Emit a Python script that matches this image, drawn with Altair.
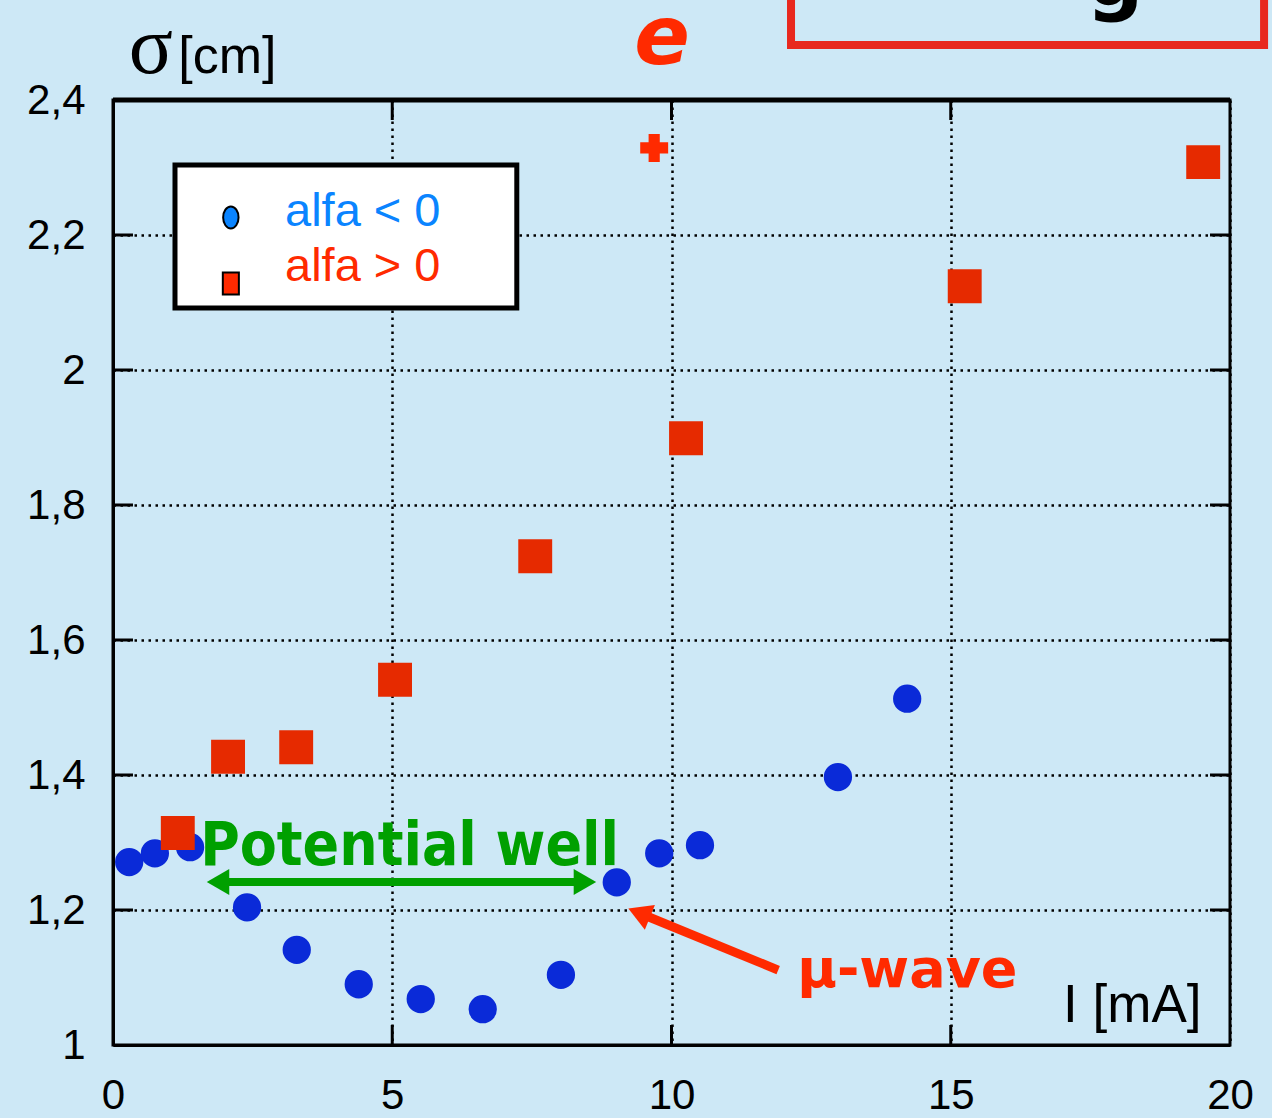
import altair as alt
import pandas as pd

# Bunch length sigma [cm] versus beam current I [mA]
blue_I = [0.29, 0.75, 1.38, 2.40, 3.29, 4.40, 5.51, 6.62, 8.02, 9.02, 9.78, 10.51, 12.98, 14.22]
blue_sigma = [1.271, 1.284, 1.293, 1.204, 1.141, 1.090, 1.068, 1.053, 1.104, 1.241, 1.284, 1.296, 1.397, 1.513]

red_I = [1.16, 2.06, 3.28, 5.05, 7.56, 10.26, 15.25, 19.52]
red_sigma = [1.314, 1.427, 1.441, 1.541, 1.724, 1.899, 2.124, 2.308]

plus_I = [9.69]
plus_sigma = [2.329]

x_ticks = [0, 5, 10, 15, 20]
y_ticks = [1, 1.2, 1.4, 1.6, 1.8, 2, 2.2, 2.4]

BG = "#cde8f6"
BLUE = "#0a2ad8"
RED = "#e62a00"
LEGEND_BLUE = "#0a84ff"
LEGEND_RED = "#ff2a00"
GREEN = "#00a000"
SANS = "Liberation Sans"

x_scale = alt.Scale(domain=[0, 20], nice=False, zero=False)
y_scale = alt.Scale(domain=[1, 2.4], nice=False, zero=False)

common_axis = dict(
    title=None, grid=True, ticks=False,
    labelFont=SANS, labelFontSize=42, labelColor="black",
    domainColor="black", domainWidth=3,
    gridColor="black", gridDash=[2.5, 4.5], gridWidth=2.5, gridOpacity=1,
)
x_axis = alt.Axis(values=x_ticks, labelPadding=30, labelFlush=False, **common_axis)
y_axis = alt.Axis(
    values=y_ticks, labelPadding=28,
    labelExpr="replace(format(datum.value, '.1~f'), '.', ',')",
    **common_axis,
)


def X(field="x"):
    return alt.X(f"{field}:Q", scale=x_scale, axis=x_axis)


def Y(field="y"):
    return alt.Y(f"{field}:Q", scale=y_scale, axis=y_axis)


def pts(xs, ys):
    return pd.DataFrame({"x": xs, "y": ys})


# measured points
blue = alt.Chart(pts(blue_I, blue_sigma)).mark_point(
    shape="circle", filled=True, size=800, color=BLUE, opacity=1
).encode(x=X(), y=Y())

red = alt.Chart(pts(red_I, red_sigma)).mark_point(
    shape="square", filled=True, size=1150, color=RED, opacity=1
).encode(x=X(), y=Y())

plus = alt.Chart(pts(plus_I, plus_sigma)).mark_point(
    shape="cross", filled=True, size=780, color=LEGEND_RED, opacity=1
).encode(x=X(), y=Y())

# inward tick marks on all four sides of the frame
tx = 20 / 55.85
ty = 20 / 675
tick_rows = []
for v in y_ticks[1:-1]:
    tick_rows.append({"x": 0, "x2": tx, "y": v, "y2": v})
    tick_rows.append({"x": 20 - tx, "x2": 20, "y": v, "y2": v})
for v in x_ticks[1:-1]:
    tick_rows.append({"x": v, "x2": v, "y": 1, "y2": 1 + ty})
    tick_rows.append({"x": v, "x2": v, "y": 2.4 - ty, "y2": 2.4})
ticks = alt.Chart(pd.DataFrame(tick_rows)).mark_rule(color="black", strokeWidth=3).encode(
    x=X(), x2="x2:Q", y=Y(), y2="y2:Q"
)

# top frame edge drawn a little heavier
top_edge = alt.Chart(pd.DataFrame([{"x": 0, "x2": 20, "y": 2.4, "y2": 2.4}])).mark_rule(
    color="black", strokeWidth=5
).encode(x=X(), x2="x2:Q", y=Y(), y2="y2:Q")

# legend box
legend_box = alt.Chart(pd.DataFrame([{"x": 1.11, "x2": 7.23, "y": 2.0919, "y2": 2.3037}])).mark_rect(
    fill="white", stroke="black", strokeWidth=5
).encode(x=X(), x2="x2:Q", y=Y(), y2="y2:Q")

ellipse_path = "M -0.7 0 A 0.7 1 0 1 0 0.7 0 A 0.7 1 0 1 0 -0.7 0 Z"
box_path = "M -0.73 -1 L 0.73 -1 L 0.73 1 L -0.73 1 Z"
leg_blue_sym = alt.Chart(pts([2.11], [2.226])).mark_point(
    shape=ellipse_path, filled=True, size=484, fill=LEGEND_BLUE, stroke="black", strokeWidth=2, opacity=1
).encode(x=X(), y=Y())
leg_red_sym = alt.Chart(pts([2.11], [2.128])).mark_point(
    shape=box_path, filled=True, size=484, fill=LEGEND_RED, stroke="black", strokeWidth=2, opacity=1
).encode(x=X(), y=Y())

leg_text = alt.Chart(pd.DataFrame({
    "x": [3.08, 3.08], "y": [2.2134, 2.132],
    "t": ["alfa < 0", "alfa > 0"], "c": [LEGEND_BLUE, LEGEND_RED],
})).mark_text(font=SANS, fontSize=47, align="left", baseline="alphabetic").encode(
    x=X(), y=Y(), text="t:N", color=alt.Color("c:N", scale=None)
)

# potential-well double arrow
well_shaft = alt.Chart(pd.DataFrame([{"x": 1.9, "x2": 8.45, "y": 1.2415, "y2": 1.2415}])).mark_rule(
    color=GREEN, strokeWidth=8
).encode(x=X(), x2="x2:Q", y=Y(), y2="y2:Q")
well_heads = alt.Chart(pd.DataFrame({
    "x": [1.88, 8.45], "y": [1.2415, 1.2415], "s": ["triangle-left", "triangle-right"],
})).mark_point(filled=True, size=676, color=GREEN, opacity=1).encode(
    x=X(), y=Y(), shape=alt.Shape("s:N", scale=None)
)
well_text = alt.Chart(pd.DataFrame([{"x": 1.56, "y": 1.267, "t": "Potential well"}])).mark_text(
    font="DejaVu Sans Condensed, DejaVu Sans", fontWeight="bold", fontSize=60,
    color=GREEN, align="left", baseline="alphabetic"
).encode(x=X(), y=Y(), text="t:N")

# microwave-instability arrow
mu_shaft = alt.Chart(pd.DataFrame([{"x": 9.42, "x2": 11.91, "y": 1.1956, "y2": 1.111}])).mark_rule(
    color=LEGEND_RED, strokeWidth=9
).encode(x=X(), x2="x2:Q", y=Y(), y2="y2:Q")
mu_head = alt.Chart(pts([9.42], [1.1956])).mark_point(
    shape="triangle-up", filled=True, size=720, angle=292, color=LEGEND_RED, opacity=1
).encode(x=X(), y=Y())
mu_text = alt.Chart(pd.DataFrame([{"x": 12.25, "y": 1.086, "t": "\u03bc-wave"}])).mark_text(
    font="DejaVu Sans", fontWeight="bold", fontSize=54,
    color=LEGEND_RED, align="left", baseline="alphabetic"
).encode(x=X(), y=Y(), text="t:N")

# axis titles
x_title = alt.Chart(pd.DataFrame([{"x": 19.49, "y": 1.034, "t": "I [mA]"}])).mark_text(
    font=SANS, fontSize=53, color="black", align="right", baseline="alphabetic"
).encode(x=X(), y=Y(), text="t:N")
y_title_sigma = alt.Chart(pd.DataFrame([{"x": 0.28, "y": 2.44, "t": "\u03c3"}])).mark_text(
    font="Liberation Serif", fontSize=82, color="black", align="left", baseline="alphabetic"
).encode(x=X(), y=Y(), text="t:N")
y_title_unit = alt.Chart(pd.DataFrame([{"x": 1.17, "y": 2.44, "t": "[cm]"}])).mark_text(
    font=SANS, fontSize=52, color="black", align="left", baseline="alphabetic"
).encode(x=X(), y=Y(), text="t:N")

# header decorations above the plot
e_text = alt.Chart(pd.DataFrame([{"x": 9.83, "y": 2.453, "t": "e"}])).mark_text(
    font="DejaVu Sans", fontWeight="bold", fontStyle="italic", fontSize=82,
    color=LEGEND_RED, align="center", baseline="alphabetic"
).encode(x=X(), y=Y(), text="t:N")
header_box = alt.Chart(pd.DataFrame([{"x": 12.14, "x2": 20.61, "y": 2.4815, "y2": 2.7}])).mark_rect(
    fill=BG, stroke="#e8281e", strokeWidth=8
).encode(x=X(), x2="x2:Q", y=Y(), y2="y2:Q")
g_text = alt.Chart(pd.DataFrame([{"x": 17.94, "y": 2.541, "t": "g"}])).mark_text(
    font="DejaVu Sans", fontWeight="bold", fontSize=80,
    color="black", align="center", baseline="alphabetic"
).encode(x=X(), y=Y(), text="t:N")

chart = alt.layer(
    ticks, top_edge, legend_box, leg_blue_sym, leg_red_sym, leg_text,
    blue, red, plus,
    well_shaft, well_heads, well_text,
    mu_shaft, mu_head, mu_text,
    x_title, y_title_sigma, y_title_unit,
    header_box, g_text, e_text,
).properties(
    width=1117, height=945,
    autosize=alt.AutoSizeParams(type="none"),
    padding={"left": 113, "top": 100, "right": 42, "bottom": 73},
    background=BG,
).configure_view(
    stroke="black", strokeWidth=3, fill=BG
)

chart.save("out.html", embed_options={"renderer": "svg", "actions": False})
